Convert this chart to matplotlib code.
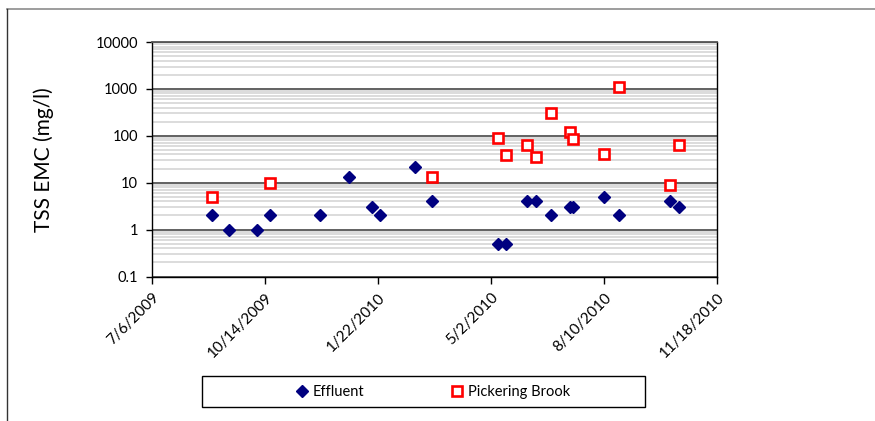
#importing libraries
import numpy as np
import pandas as pd
import matplotlib
matplotlib.use('Agg')
import matplotlib.pyplot as plt
from matplotlib.ticker import FuncFormatter, LogLocator, NullFormatter
from matplotlib.lines import Line2D
from matplotlib.patches import Rectangle

plt.rcParams['font.family'] = ['Lato', 'DejaVu Sans']

#sampling dates and TSS event mean concentrations (mg/l)
effluent_dates = ['2009-08-28', '2009-09-12', '2009-10-07', '2009-10-18', '2009-12-02',
                  '2009-12-27', '2010-01-17', '2010-01-24', '2010-02-24', '2010-03-11',
                  '2010-05-08', '2010-05-15', '2010-06-03', '2010-06-11', '2010-06-24',
                  '2010-07-11', '2010-07-14', '2010-08-10', '2010-08-23', '2010-10-07',
                  '2010-10-15']
effluent_tss = [2, 1, 1, 2, 2,
                13, 3, 2, 22, 4,
                0.5, 0.5, 4, 4, 2,
                3, 3, 5, 2, 4,
                3]

brook_dates = ['2009-08-28', '2009-10-18', '2010-03-11', '2010-05-08', '2010-05-15',
               '2010-06-03', '2010-06-11', '2010-06-24', '2010-07-11', '2010-07-14',
               '2010-08-10', '2010-08-23', '2010-10-07', '2010-10-15']
brook_tss = [5, 10, 13, 92, 39,
             63, 36, 300, 120, 85,
             41, 1080, 9, 63]

x_start = '2009-07-06'
x_end = '2010-11-18'

fig = plt.figure(figsize=(8.75, 4.21), dpi=100)
ax = fig.add_axes([0.1737, 0.3432, 0.6457, 0.557])

#scatter points
ax.plot(pd.to_datetime(effluent_dates), effluent_tss, linestyle='none', marker='D',
        markersize=5.8, color='#000080', label='Effluent', zorder=3)
ax.plot(pd.to_datetime(brook_dates), brook_tss, linestyle='none', marker='s',
        markersize=7.2, markerfacecolor='white', markeredgecolor='#ff0000',
        markeredgewidth=1.9, label='Pickering Brook', zorder=4)

#log y axis with major and minor gridlines
ax.set_yscale('log')
ax.set_ylim(0.1, 10000)
ax.yaxis.set_major_locator(LogLocator(base=10, numticks=10))
ax.yaxis.set_minor_locator(LogLocator(base=10, subs=np.arange(2, 10), numticks=20))
ax.yaxis.set_major_formatter(FuncFormatter(lambda v, p: f'{v:g}'))
ax.yaxis.set_minor_formatter(NullFormatter())
ax.grid(True, which='minor', axis='y', color='#d6d6d6', linewidth=1.2, zorder=0)
ax.grid(True, which='major', axis='y', color='#555555', linewidth=1.3, zorder=1)
ax.set_axisbelow(True)
ax.tick_params(axis='y', which='minor', length=0)
ax.tick_params(axis='y', which='major', length=4, width=1, labelsize=10.5, pad=6)
ax.set_ylabel('TSS EMC (mg/l)', fontsize=15, labelpad=30)

#date x axis, ticks every 100 days
ticks = pd.date_range(x_start, x_end, freq='100D')
ax.set_xlim(pd.Timestamp(x_start), pd.Timestamp(x_end))
ax.set_xticks(ticks)
ax.set_xticklabels([f'{d.month}/{d.day}/{d.year}' for d in ticks], rotation=45,
                   ha='right', rotation_mode='anchor', fontsize=11)
ax.tick_params(axis='x', length=5, width=1, pad=5)

for side in ['left', 'right', 'bottom']:
    ax.spines[side].set_color('black')
    ax.spines[side].set_linewidth(1.0)
ax.spines['top'].set_color('#555555')
ax.spines['top'].set_linewidth(1.3)

#legend inside a fixed box under the chart
fig.patches.append(Rectangle((0.2309, 0.0333), 0.506, 0.0736, transform=fig.transFigure,
                             facecolor='white', edgecolor='black', linewidth=1.0))
fig.legend(loc='center', bbox_to_anchor=(0.495, 0.0680), ncol=2, frameon=False,
           fontsize=10.5, handlelength=0.8, handletextpad=0.3, columnspacing=6.0)

#outer chart border (top and left edges)
fig.add_artist(Line2D([0.008, 1.0], [0.979, 0.979], transform=fig.transFigure,
                      color='#8c8c8c', linewidth=1.2))
fig.add_artist(Line2D([0.008, 0.008], [0.0, 0.979], transform=fig.transFigure,
                      color='#333333', linewidth=1.0))

plt.savefig('out.png', dpi=100)
